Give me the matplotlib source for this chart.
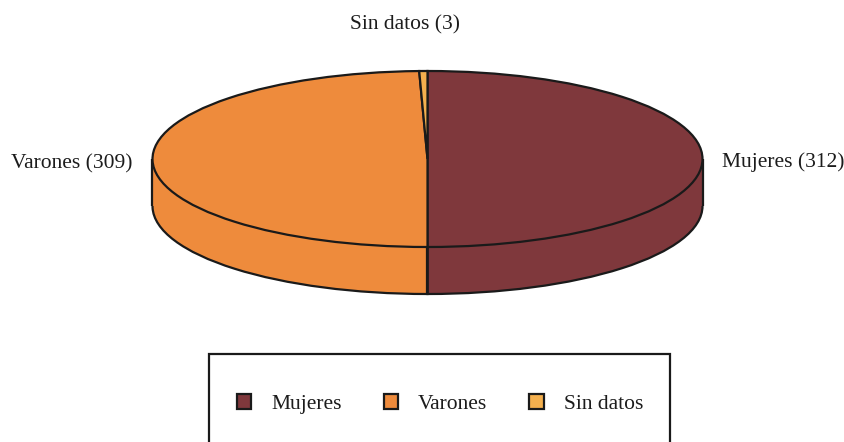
import matplotlib
matplotlib.use("Agg")
import matplotlib.pyplot as plt
from matplotlib.patches import Patch, Rectangle

labels = ["Mujeres", "Varones", "Sin datos"]
values = [312, 309, 3]
colors = ["#7f383c", "#ee8b3c", "#f4b04e"]

W, H = 845, 442
cx, cy = 427.5, 159  # centre of the top ellipse, px
rx, ry = 275, 88
depth = 47 / ry
edge = "#1a1a1a"
fs = 15.45

plt.rcParams["font.family"] = ["Liberation Serif", "DejaVu Serif"]

fig = plt.figure(figsize=(W / 100, H / 100), dpi=100)
ax = fig.add_axes([0, 0, 1, 1])

# bottom disc, then side walls, then top disc (unit circle squashed by the axes limits)
ax.pie(values, colors=colors, startangle=90, counterclock=False, center=(0, -depth),
       wedgeprops={"edgecolor": edge, "linewidth": 1.6})
ax.add_patch(Rectangle((-1, -depth), 1, depth, facecolor=colors[1], edgecolor="none", zorder=3))
ax.add_patch(Rectangle((0, -depth), 1, depth, facecolor=colors[0], edgecolor="none", zorder=3))
ax.plot([-1, -1], [0, -depth], color=edge, lw=1.6, zorder=4, solid_capstyle="butt")
ax.plot([1, 1], [0, -depth], color=edge, lw=1.6, zorder=4, solid_capstyle="butt")
ax.plot([0, 0], [-1, -1 - depth], color=edge, lw=1.6, zorder=4, solid_capstyle="butt")
wedges, _ = ax.pie(values, colors=colors, startangle=90, counterclock=False,
                   wedgeprops={"edgecolor": edge, "linewidth": 1.6, "zorder": 5})

ax.set_aspect("auto")
ax.set_xlim(-cx / rx, (W - cx) / rx)
ax.set_ylim((cy - H) / ry, cy / ry)
ax.set_frame_on(False)


def px(x, y):
    return (x - cx) / rx, (cy - y) / ry


for name, val, x, y, ha in [
    (labels[0], values[0], 722.5, 162, "left"),
    (labels[1], values[1], 133, 164, "right"),
    (labels[2], values[2], 405, 25, "center"),
]:
    ax.text(*px(x, y), f"{name} ({val})", ha=ha, va="center", fontsize=fs, color="#1c1c1c")

# legend box runs off the bottom of the figure
fig.add_artist(Rectangle((209.5 / W, 1 - 460 / H), 460.5 / W, 106 / H, transform=fig.transFigure,
                         facecolor="white", edgecolor=edge, linewidth=1.6))

handles = [Patch(facecolor=c, edgecolor=edge, linewidth=1.6) for c in colors]
leg = fig.legend(handles, labels, ncol=3, loc="center", frameon=False,
                 bbox_to_anchor=(440 / W, 1 - 404 / H), bbox_transform=fig.transFigure,
                 fontsize=fs, borderpad=0, borderaxespad=0, handlelength=0.67,
                 handleheight=0.67, handletextpad=0.93, columnspacing=1.95,
                 labelcolor="#1c1c1c")

fig.savefig("out.png", dpi=100)
